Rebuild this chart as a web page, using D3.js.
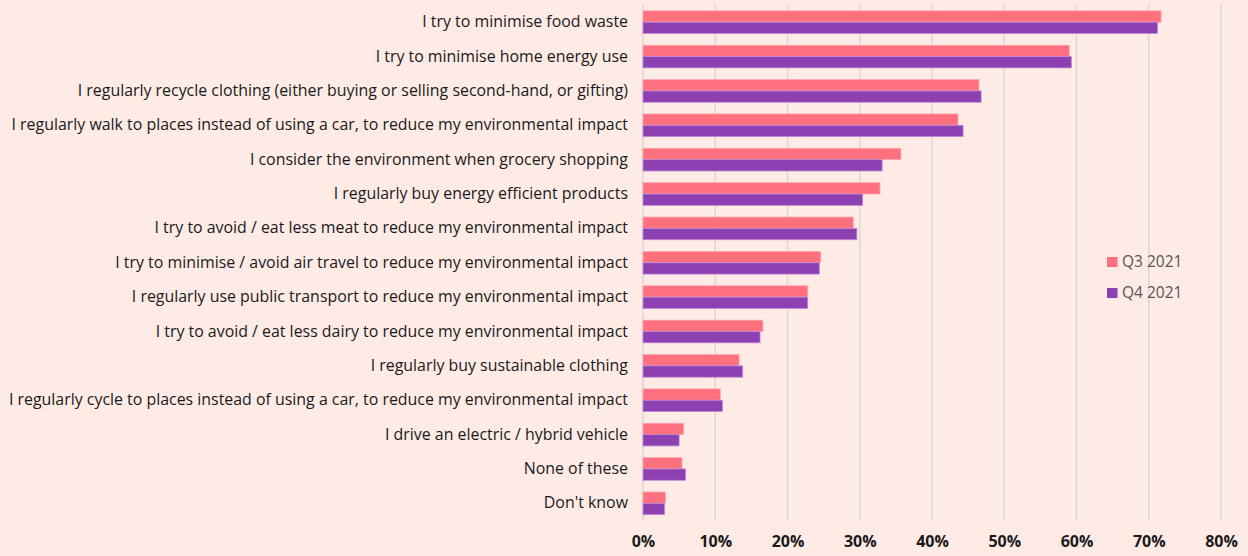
<!DOCTYPE html>
<html>
<head>
<meta charset="utf-8">
<script src="https://cdn.jsdelivr.net/npm/d3@7"></script>
<style>
  body { margin: 0; background: #ffebe6; }
  svg { display: block; }
  .cat text { font-family: "Open Sans", sans-serif; font-size: 15px; fill: #1a1a1a; font-weight: 500; }
  .xaxis text { font-family: "Open Sans", sans-serif; font-size: 16px; fill: #1a1a1a; font-weight: 700; }
  .legend text { font-family: "Open Sans", sans-serif; font-size: 15.5px; fill: #555; }
</style>
</head>
<body>
<div id="chart"></div>
<script>
var svgWidth = 1248;
var svgHeight = 556;

// categories, top to bottom
var categories = [
  "I try to minimise food waste",
  "I try to minimise home energy use",
  "I regularly recycle clothing (either buying or selling second-hand, or gifting)",
  "I regularly walk to places instead of using a car, to reduce my environmental impact",
  "I consider the environment when grocery shopping",
  "I regularly buy energy efficient products",
  "I try to avoid / eat less meat to reduce my environmental impact",
  "I try to minimise / avoid air travel to reduce my environmental impact",
  "I regularly use public transport to reduce my environmental impact",
  "I try to avoid / eat less dairy to reduce my environmental impact",
  "I regularly buy sustainable clothing",
  "I regularly cycle to places instead of using a car, to reduce my environmental impact",
  "I drive an electric / hybrid vehicle",
  "None of these",
  "Don't know"
];

var seriesNames = ["Q3 2021", "Q4 2021"];
var q3 = [71.7, 59.0, 46.5, 43.6, 35.7, 32.8, 29.1, 24.6, 22.8, 16.6, 13.3, 10.7, 5.6, 5.4, 3.1];
var q4 = [71.2, 59.3, 46.8, 44.3, 33.1, 30.4, 29.6, 24.4, 22.8, 16.2, 13.8, 11.0, 5.0, 5.9, 3.0];
var xTicks = [0, 10, 20, 30, 40, 50, 60, 70, 80];

var colors = ["#ff707f", "#8c40b2"];
var strokes = ["#ffa6b0", "#c08ad8"];

var plot = { left: 643, right: 1221, top: 5, bottom: 520.5 };

var svg = d3.select("#chart")
  .append("svg")
  .attr("width", svgWidth)
  .attr("height", svgHeight);

svg.append("rect")
  .attr("width", svgWidth)
  .attr("height", svgHeight)
  .attr("fill", "#ffebe6");

var x = d3.scaleLinear()
  .domain([0, 80])
  .range([plot.left, plot.right]);

var y = d3.scaleBand()
  .domain(categories)
  .range([plot.top, plot.bottom])
  .paddingInner(0.34)
  .paddingOuter(0.17);

var ySub = d3.scaleBand()
  .domain(seriesNames)
  .range([0, y.bandwidth()]);

// gridlines
svg.append("g")
  .selectAll("line")
  .data(xTicks)
  .enter()
  .append("line")
  .attr("x1", d => x(d))
  .attr("x2", d => x(d))
  .attr("y1", plot.top)
  .attr("y2", plot.bottom)
  .attr("stroke", "#dcd6d4")
  .attr("stroke-width", 1.5);

// bars
var rows = categories.map((c, i) => ({ cat: c, vals: [q3[i], q4[i]] }));

var groups = svg.append("g")
  .selectAll("g")
  .data(rows)
  .enter()
  .append("g")
  .attr("transform", d => `translate(0, ${y(d.cat)})`);

groups.selectAll("rect")
  .data(d => d.vals.map((v, j) => ({ v: v, s: seriesNames[j], j: j })))
  .enter()
  .append("rect")
  .attr("x", x(0))
  .attr("y", d => ySub(d.s))
  .attr("width", d => x(d.v) - x(0))
  .attr("height", ySub.bandwidth())
  .attr("fill", d => colors[d.j])
  .attr("stroke", d => strokes[d.j])
  .attr("stroke-width", 0.8);

// category labels
var yAxis = d3.axisLeft(y).tickSize(0).tickPadding(15);
var catG = svg.append("g")
  .attr("class", "cat")
  .attr("transform", `translate(${x(0)}, 0)`)
  .call(yAxis)
  .call(g => g.select(".domain").remove());

// fit the longest label to the width it has in the original (~620px)
var longest = d3.max(catG.selectAll("text").nodes(), n => n.getComputedTextLength());
var fs = 15 * 620 / longest;
catG.selectAll("text").style("font-size", fs + "px");

// x axis labels
var xAxis = d3.axisBottom(x)
  .tickValues(xTicks)
  .tickSize(0)
  .tickPadding(0)
  .tickFormat(d => d + "%");
svg.append("g")
  .attr("class", "xaxis")
  .attr("transform", `translate(0, 536)`)
  .call(xAxis)
  .call(g => g.select(".domain").remove());

// legend
var legend = svg.append("g")
  .attr("class", "legend")
  .attr("transform", "translate(1107, 257)");

seriesNames.forEach(function(name, i) {
  var row = legend.append("g").attr("transform", `translate(0, ${i * 31})`);
  row.append("rect")
    .attr("width", 10.5)
    .attr("height", 10)
    .attr("fill", colors[i]);
  row.append("text")
    .attr("x", 15)
    .attr("y", 5)
    .attr("dy", "0.35em")
    .text(name);
});
</script>
</body>
</html>
